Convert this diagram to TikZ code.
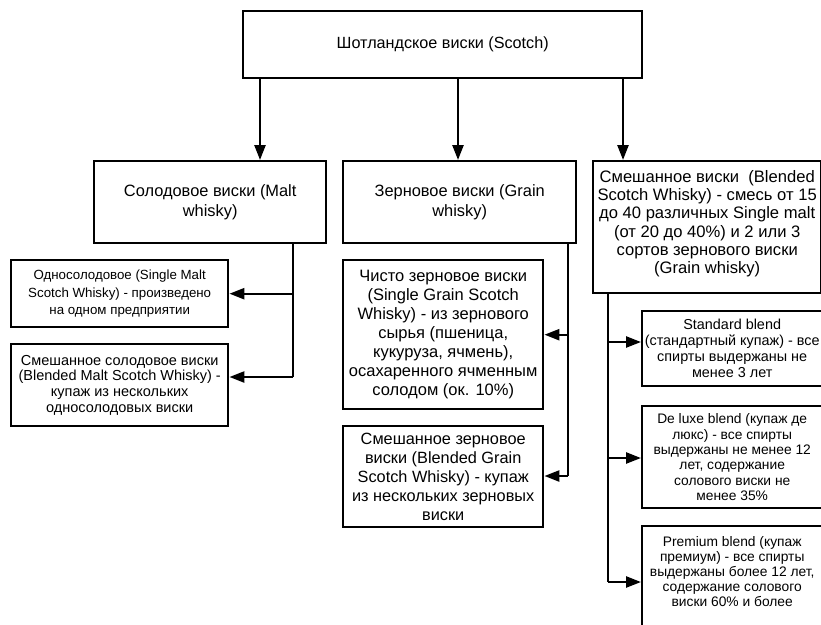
\documentclass[tikz,border=0pt]{standalone}
\usepackage{fontspec}
\setmainfont{Liberation Sans}
\usetikzlibrary{arrows.meta}
\newcommand{\fsz}[2]{\fontsize{#1}{#2}\selectfont}
\tikzset{
  box/.style={draw=black, line width=2.4pt, fill=white, align=center, inner sep=0pt, anchor=north west},
  link/.style={line width=2.4pt},
  arr/.style={line width=2.4pt, -{Triangle[length=15pt,width=11pt]}},
}
\begin{document}
\begin{tikzpicture}[x=1pt,y=-1pt]
\useasboundingbox (0,0) rectangle (821,624);
% top
\node[box, minimum width=399pt, minimum height=67pt, font=\fsz{16.2}{19}] (top) at (242,10) {Шотландское виски (Scotch)};
% level 2
\node[box, minimum width=232pt, minimum height=82pt, font=\fsz{16.4}{20}] (malt) at (93,160) {Солодовое виски (Malt\\whisky)};
\node[box, minimum width=233pt, minimum height=82pt, font=\fsz{16.4}{20}] (grain) at (342,160) {Зерновое виски (Grain\\whisky)};
\node[box, minimum width=228pt, minimum height=132pt, font=\fsz{16.6}{18.3}] (blend) at (592,160) {Смешанное виски\ \ (Blended\\Scotch Whisky) - смесь от 15\\до 40 различных Single malt\\(от 20 до 40\%) и 2 или 3\\сортов зернового виски\\(Grain whisky)\\[-8pt]};
% malt children
\node[box, minimum width=217pt, minimum height=67pt, font=\fsz{13.3}{17.3}] (sm) at (10,259) {Односолодовое (Single Malt\\Scotch Whisky) - произведено\\на одном предприятии};
\node[box, minimum width=217pt, minimum height=82pt, font=\fsz{14.5}{15.7}] (bm) at (10,343) {Смешанное солодовое виски\\(Blended Malt Scotch Whisky) -\\купаж из нескольких\\односолодовых виски};
% grain children
\node[box, minimum width=200pt, minimum height=149pt, font=\fsz{16.5}{19}] (sg) at (342,259) {Чисто зерновое виски\\(Single Grain Scotch\\Whisky) - из зернового\\сырья (пшеница,\\кукуруза, ячмень),\\осахаренного ячменным\\солодом (ок. 10\%)};
\node[box, minimum width=200pt, minimum height=101pt, font=\fsz{16.3}{19}] (bg) at (342,425) {Смешанное зерновое\\виски (Blended Grain\\Scotch Whisky) - купаж\\из нескольких зерновых\\виски};
% blend children
\node[box, minimum width=180pt, minimum height=75pt, font=\fsz{14.4}{16}] (std) at (641,310) {Standard blend\\(стандартный купаж) - все\\спирты выдержаны не\\менее 3 лет};
\node[box, minimum width=180pt, minimum height=102pt, font=\fsz{13.8}{15.3}] (dlx) at (641,405) {De luxe blend (купаж де\\люкс) - все спирты\\выдержаны не менее 12\\лет, содержание\\солового виски не\\менее 35\%};
\node[box, minimum width=180pt, minimum height=100pt, font=\fsz{13.8}{15}] (prem) at (641,525) {Premium blend (купаж\\премиум) - все спирты\\выдержаны более 12 лет,\\содержание солового\\виски 60\% и более\\[-5pt]};
% coordinates
\coordinate (xa) at (260,0);
\coordinate (xb) at (458,0);
\coordinate (xc) at (623,0);
\coordinate (xm) at (293,0);
\coordinate (xg) at (568,0);
\coordinate (xl) at (608,0);
\coordinate (mEnd) at (293,377);
\coordinate (gEnd) at (568,476);
\coordinate (lEnd) at (608,582);
% top arrows
\draw[arr] (top.south -| xa) -- (malt.north -| xa);
\draw[arr] (top.south -| xb) -- (grain.north -| xb);
\draw[arr] (top.south -| xc) -- (blend.north -| xc);
% malt branch
\draw[link] (malt.south -| xm) -- (mEnd);
\draw[arr] (sm.east -| xm) -- (sm.east);
\draw[arr] (mEnd) -- (mEnd -| bm.east);
% grain branch
\draw[link] (grain.south -| xg) -- (gEnd);
\draw[arr] (sg.east -| xg) -- (sg.east);
\draw[arr] (gEnd) -- (gEnd -| bg.east);
% blend branch
\draw[link] (blend.south -| xl) -- (lEnd);
\draw[arr] (xl |- 0,342) -- (std.west |- 0,342);
\draw[arr] (xl |- 0,458) -- (dlx.west |- 0,458);
\draw[arr] (lEnd) -- (lEnd -| prem.west);
\end{tikzpicture}
\end{document}
